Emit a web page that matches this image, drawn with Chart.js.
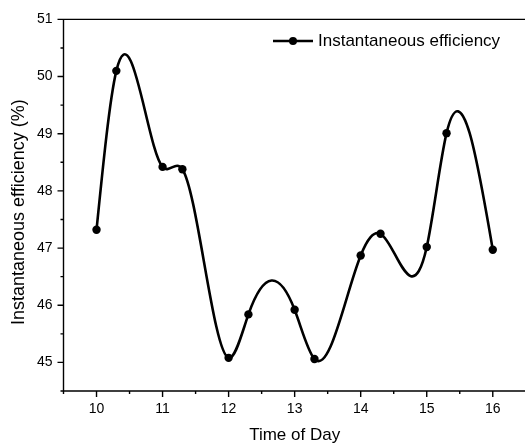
<!DOCTYPE html>
<html><head><meta charset="utf-8">
<script src="https://cdn.jsdelivr.net/npm/chart.js@4"></script>
<style>html,body{margin:0;padding:0;background:#fff;overflow:hidden;width:525px;height:444px}
#wrap{width:530px;height:444px}</style></head>
<body><div id="wrap"><canvas id="c" width="530" height="444"></canvas></div>
<script>
const timeOfDay = [10, 10.3, 11, 11.3, 12, 12.3, 13, 13.3, 14, 14.3, 15, 15.3, 16];
const efficiency = [47.32, 50.1, 48.42, 48.38, 45.08, 45.84, 45.92, 45.06, 46.87, 47.25, 47.02, 49.01, 46.97];
const xTickValues = [10, 11, 12, 13, 14, 15, 16];
const yTickValues = [45, 46, 47, 48, 49, 50, 51];
const seriesLabel = 'Instantaneous efficiency';
const xTitle = 'Time of Day';
const yTitle = 'Instantaneous efficiency (%)';

const FONT = '"Liberation Sans", Arial, sans-serif';

function naturalSplineSlopes(xs, ys) {
  const n = xs.length, h = [], M = new Array(n).fill(0);
  for (let i = 0; i < n - 1; i++) h.push(xs[i + 1] - xs[i]);
  const a = [], b = [], c = [], d = [];
  for (let i = 1; i < n - 1; i++) {
    a.push(h[i - 1]); b.push(2 * (h[i - 1] + h[i])); c.push(h[i]);
    d.push(6 * ((ys[i + 1] - ys[i]) / h[i] - (ys[i] - ys[i - 1]) / h[i - 1]));
  }
  const m = b.length;
  for (let i = 1; i < m; i++) { const w = a[i] / b[i - 1]; b[i] -= w * c[i - 1]; d[i] -= w * d[i - 1]; }
  const sol = new Array(m);
  sol[m - 1] = d[m - 1] / b[m - 1];
  for (let i = m - 2; i >= 0; i--) sol[i] = (d[i] - c[i] * sol[i + 1]) / b[i];
  for (let i = 1; i < n - 1; i++) M[i] = sol[i - 1];
  const s = [];
  for (let i = 0; i < n - 1; i++) s.push((ys[i + 1] - ys[i]) / h[i] - h[i] * (2 * M[i] + M[i + 1]) / 6);
  s.push((ys[n - 1] - ys[n - 2]) / h[n - 2] + h[n - 2] * (M[n - 2] + 2 * M[n - 1]) / 6);
  return s;
}

const splinePlugin = {
  id: 'spline',
  beforeDatasetDraw(chart, args) {
    const meta = args.meta;
    const xs = chart.scales.x, ys = chart.scales.y;
    const data = chart.data.datasets[args.index].data;
    const X = data.map(p => p.x), Y = data.map(p => p.y);
    const s = naturalSplineSlopes(X, Y);
    const pts = meta.data, n = pts.length;
    for (let i = 0; i < n; i++) {
      if (i > 0) { const h = X[i] - X[i - 1];
        pts[i].cp1x = xs.getPixelForValue(X[i] - h / 3); pts[i].cp1y = ys.getPixelForValue(Y[i] - s[i] * h / 3); }
      else { pts[i].cp1x = pts[i].x; pts[i].cp1y = pts[i].y; }
      if (i < n - 1) { const h = X[i + 1] - X[i];
        pts[i].cp2x = xs.getPixelForValue(X[i] + h / 3); pts[i].cp2y = ys.getPixelForValue(Y[i] + s[i] * h / 3); }
      else { pts[i].cp2x = pts[i].x; pts[i].cp2y = pts[i].y; }
    }
    meta.dataset._pointsUpdated = true;
    meta.dataset._path = undefined;
  }
};

const framePlugin = {
  id: 'frame',
  afterDraw(chart) {
    const ctx = chart.ctx, a = chart.chartArea;
    const xs = chart.scales.x, ys = chart.scales.y;
    ctx.save();
    ctx.strokeStyle = '#000';
    ctx.lineWidth = 1.4;
    ctx.beginPath();
    ctx.moveTo(a.left, a.top); ctx.lineTo(a.left, a.bottom);
    ctx.moveTo(a.left - 3, a.bottom); ctx.lineTo(a.right + 2, a.bottom);
    ctx.moveTo(a.left, a.top); ctx.lineTo(a.right + 2, a.top);
    for (let v = xs.min; v <= xs.max + 1e-9; v += 0.5) {
      const px = xs.getPixelForValue(v);
      const len = Math.abs(v - Math.round(v)) < 1e-9 ? 6 : 3;
      ctx.moveTo(px, a.bottom); ctx.lineTo(px, a.bottom + len);
    }
    for (let v = ys.min; v <= ys.max + 1e-9; v += 0.5) {
      const py = ys.getPixelForValue(v);
      const len = Math.abs(v - Math.round(v)) < 1e-9 ? 6 : 3;
      ctx.moveTo(a.left, py); ctx.lineTo(a.left - len, py);
    }
    ctx.stroke();
    // y axis title
    ctx.fillStyle = '#000';
    ctx.save();
    ctx.translate(19, (a.top + a.bottom) / 2 + 7);
    ctx.rotate(-Math.PI / 2);
    ctx.font = '18px ' + FONT;
    ctx.textAlign = 'center';
    ctx.textBaseline = 'middle';
    ctx.fillText(yTitle, 0, 0);
    ctx.restore();
    // legend
    const ds = chart.data.datasets[0];
    const ly = 41;
    ctx.lineWidth = 2.5;
    ctx.beginPath(); ctx.moveTo(273, ly); ctx.lineTo(313, ly); ctx.stroke();
    ctx.beginPath(); ctx.arc(293, ly, 4, 0, Math.PI * 2); ctx.fill();
    ctx.font = '17px ' + FONT;
    ctx.textBaseline = 'middle';
    ctx.textAlign = 'left';
    ctx.fillText(ds.label, 318, ly);
    ctx.restore();
  }
};

new Chart(document.getElementById('c'), {
  type: 'line',
  data: {
    datasets: [{
      label: seriesLabel,
      data: timeOfDay.map((t, i) => ({ x: t, y: efficiency[i] })),
      borderColor: '#000',
      backgroundColor: '#000',
      borderWidth: 2.6,
      pointRadius: 4.2,
      pointBorderWidth: 0,
      pointBackgroundColor: '#000',
      tension: 0.4,
      fill: false
    }]
  },
  options: {
    responsive: false,
    animation: false,
    devicePixelRatio: 1,
    layout: { padding: { left: 0, top: 13, right: 1, bottom: 0 } },
    plugins: { legend: { display: false }, tooltip: { enabled: false } },
    scales: {
      x: {
        type: 'linear', min: 9.5, max: 16.5,
        afterBuildTicks: s => { s.ticks = xTickValues.map(v => ({ value: v })); },
        afterFit: s => { s.height = 53; },
        grid: { display: true, drawOnChartArea: false, drawTicks: false },
        border: { display: false },
        ticks: { color: '#000', padding: 10, font: { family: FONT, size: 14 }, maxRotation: 0 },
        title: { display: true, text: xTitle, color: '#000', font: { family: FONT, size: 17, lineHeight: 1 }, padding: { top: 0, bottom: 0 } }
      },
      y: {
        type: 'linear', min: 44.5, max: 51,
        afterBuildTicks: s => { s.ticks = yTickValues.map(v => ({ value: v })); },
        afterFit: s => { s.width = 63.5; },
        grid: { display: true, drawOnChartArea: false, drawTicks: false },
        border: { display: false },
        ticks: { color: '#000', padding: 11, font: { family: FONT, size: 14 } },
        title: { display: false, text: yTitle }
      }
    }
  },
  plugins: [splinePlugin, framePlugin]
});
</script>
</body></html>
